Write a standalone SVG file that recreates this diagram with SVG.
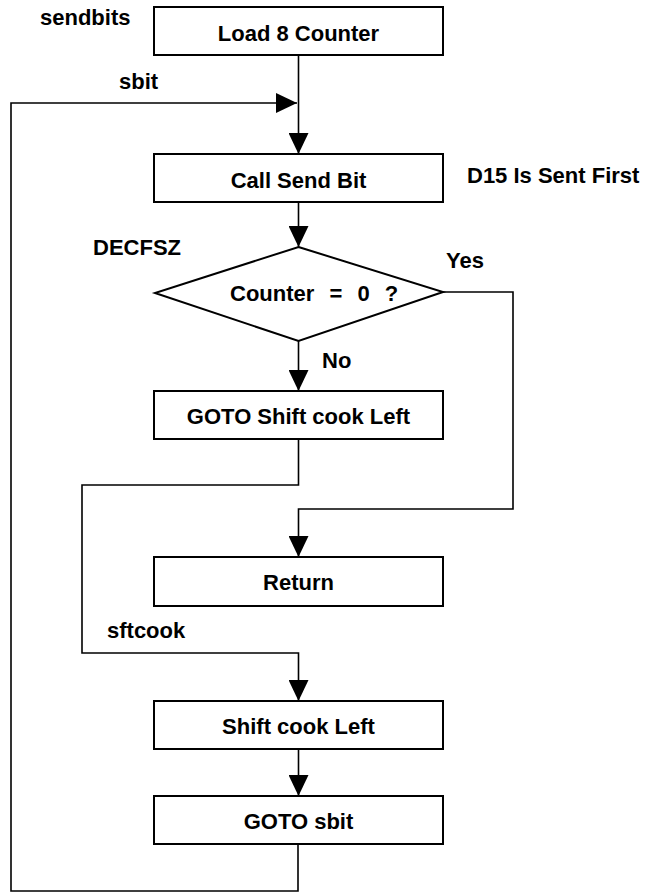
<svg xmlns="http://www.w3.org/2000/svg" width="650" height="893" viewBox="0 0 650 893">
  <style>
    .box { fill: #ffffff; stroke: #000000; stroke-width: 2; }
    .wire { fill: none; stroke: #000000; stroke-width: 1.6; }
    .t { font-family: "Liberation Sans", Arial, sans-serif; font-size: 22px; font-weight: bold; fill: #000000; }
    .c { text-anchor: middle; }
  </style>
  <defs>
    <marker id="head" markerUnits="userSpaceOnUse" markerWidth="21" markerHeight="20" refX="21" refY="10" orient="auto">
      <path d="M0,0 L21,10 L0,20 Z" fill="#000000"/>
    </marker>
  </defs>
  <rect width="650" height="893" fill="#ffffff"/>

  <!-- connectors -->
  <g id="connectors">
    <path class="wire" d="M298.5,55 V154" marker-end="url(#head)"/>
    <path class="wire" d="M298,844 V891 H11 V103 H297" marker-end="url(#head)"/>
    <path class="wire" d="M298.5,202 V247" marker-end="url(#head)"/>
    <path class="wire" d="M298.5,341 V391" marker-end="url(#head)"/>
    <path class="wire" d="M443,292 H513 V509 H298.5 V557" marker-end="url(#head)"/>
    <path class="wire" d="M298.5,439 V485 H82 V653 H298.5 V701" marker-end="url(#head)"/>
    <path class="wire" d="M298.5,749 V796" marker-end="url(#head)"/>
  </g>

  <!-- side labels -->
  <g id="labels">
    <text class="t" x="40" y="25">sendbits</text>
    <text class="t" x="119" y="89">sbit</text>
    <text class="t" x="467" y="183">D15 Is Sent First</text>
    <text class="t" x="93" y="255">DECFSZ</text>
    <text class="t" x="446" y="268">Yes</text>
    <text class="t" x="322" y="368">No</text>
    <text class="t" x="107" y="638">sftcook</text>
  </g>

  <g id="load-counter">
    <rect class="box" x="154" y="7" width="289" height="48"/>
    <text class="t c" x="298.5" y="41">Load 8 Counter</text>
  </g>

  <g id="call-send-bit">
    <rect class="box" x="154" y="154" width="289" height="48"/>
    <text class="t c" x="298.5" y="188">Call Send Bit</text>
  </g>

  <g id="counter-zero">
    <polygon class="box" points="298.5,247 443,292 298.5,341 155,293" stroke-width="2.4"/>
    <text class="t" x="230" y="301" style="word-spacing:9px">Counter = 0 ?</text>
  </g>

  <g id="goto-shift">
    <rect class="box" x="154" y="391" width="289" height="48"/>
    <text class="t c" x="298.5" y="424">GOTO Shift cook Left</text>
  </g>

  <g id="return">
    <rect class="box" x="154" y="557" width="289" height="49"/>
    <text class="t c" x="298.5" y="590">Return</text>
  </g>

  <g id="shift-cook-left">
    <rect class="box" x="154" y="701" width="289" height="48"/>
    <text class="t c" x="298.5" y="734">Shift cook Left</text>
  </g>

  <g id="goto-sbit">
    <rect class="box" x="154" y="796" width="289" height="48"/>
    <text class="t c" x="298.5" y="829">GOTO sbit</text>
  </g>
</svg>
